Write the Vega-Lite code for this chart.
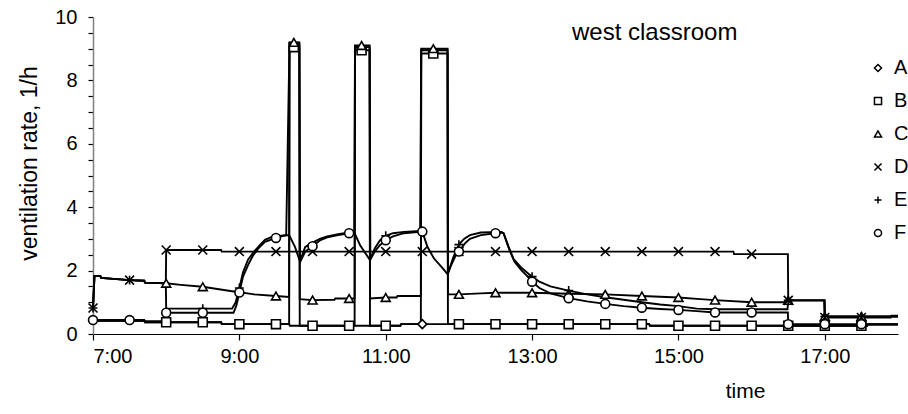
{
  "$schema": "https://vega.github.io/schema/vega-lite/v6.json",
  "autosize": "none",
  "width": 805,
  "height": 317,
  "padding": {"left": 93, "top": 17, "right": 10, "bottom": 80},
  "background": "white",
  "config": {
    "view": {"stroke": null},
    "font": "Liberation Sans",
    "axis": {"labelFont": "Liberation Sans", "titleFont": "Liberation Sans", "labelColor": "black", "titleColor": "black", "titleFontWeight": "normal", "tickColor": "black", "grid": false}
  },
  "title": {"text": "west classroom", "anchor": "start", "frame": "group", "dx": 479, "dy": 38, "fontSize": 24, "fontWeight": "normal", "font": "Liberation Sans", "color": "black", "offset": 0},
  "datasets": {
    "lines": [
      {"series":"A","time":7.0,"rate":0.42},{"series":"A","time":7.7,"rate":0.42},{"series":"A","time":7.71,"rate":0.37},{"series":"A","time":8.75,"rate":0.37},{"series":"A","time":8.76,"rate":0.31},{"series":"A","time":9.68,"rate":0.31},{"series":"A","time":9.69,"rate":0.26},{"series":"A","time":11.2,"rate":0.26},{"series":"A","time":11.21,"rate":0.31},{"series":"A","time":14.6,"rate":0.31},{"series":"A","time":14.61,"rate":0.26},{"series":"A","time":17.58,"rate":0.26},{"series":"A","time":17.59,"rate":0.3},{"series":"A","time":18.0,"rate":0.3},

      {"series":"B","time":7.0,"rate":0.42},{"series":"B","time":7.7,"rate":0.42},{"series":"B","time":7.71,"rate":0.37},{"series":"B","time":8.75,"rate":0.37},{"series":"B","time":8.76,"rate":0.31},{"series":"B","time":9.68,"rate":0.31},{"series":"B","time":9.685,"rate":9.05},{"series":"B","time":9.82,"rate":9.05},{"series":"B","time":9.825,"rate":0.26},{"series":"B","time":10.575,"rate":0.26},{"series":"B","time":10.58,"rate":8.95},{"series":"B","time":10.78,"rate":8.95},{"series":"B","time":10.785,"rate":0.26},{"series":"B","time":11.2,"rate":0.26},{"series":"B","time":11.21,"rate":0.31},{"series":"B","time":11.48,"rate":0.31},{"series":"B","time":11.485,"rate":8.85},{"series":"B","time":11.845,"rate":8.85},{"series":"B","time":11.85,"rate":0.31},{"series":"B","time":14.6,"rate":0.31},{"series":"B","time":14.61,"rate":0.26},{"series":"B","time":17.58,"rate":0.26},{"series":"B","time":17.59,"rate":0.3},{"series":"B","time":18.0,"rate":0.3},

      {"series":"C","time":7.0,"rate":0.82},{"series":"C","time":7.02,"rate":1.83},{"series":"C","time":7.1,"rate":1.83},{"series":"C","time":7.11,"rate":1.77},{"series":"C","time":7.5,"rate":1.7},{"series":"C","time":7.7,"rate":1.68},{"series":"C","time":7.71,"rate":1.62},{"series":"C","time":8.0,"rate":1.6},{"series":"C","time":8.2,"rate":1.55},{"series":"C","time":8.5,"rate":1.49},{"series":"C","time":8.7,"rate":1.42},{"series":"C","time":8.9,"rate":1.35},{"series":"C","time":9.0,"rate":1.32},{"series":"C","time":9.2,"rate":1.25},{"series":"C","time":9.5,"rate":1.2},{"series":"C","time":9.68,"rate":1.17},{"series":"C","time":9.685,"rate":9.2},{"series":"C","time":9.82,"rate":9.2},{"series":"C","time":9.825,"rate":1.1},{"series":"C","time":10.0,"rate":1.07},{"series":"C","time":10.3,"rate":1.08},{"series":"C","time":10.31,"rate":1.12},{"series":"C","time":10.575,"rate":1.12},{"series":"C","time":10.58,"rate":9.1},{"series":"C","time":10.78,"rate":9.1},{"series":"C","time":10.785,"rate":1.12},{"series":"C","time":11.0,"rate":1.15},{"series":"C","time":11.15,"rate":1.15},{"series":"C","time":11.16,"rate":1.2},{"series":"C","time":11.48,"rate":1.2},{"series":"C","time":11.485,"rate":9.0},{"series":"C","time":11.845,"rate":9.0},{"series":"C","time":11.85,"rate":1.25},{"series":"C","time":12.0,"rate":1.25},{"series":"C","time":12.3,"rate":1.28},{"series":"C","time":12.5,"rate":1.3},{"series":"C","time":13.0,"rate":1.3},{"series":"C","time":13.5,"rate":1.27},{"series":"C","time":14.0,"rate":1.25},{"series":"C","time":14.5,"rate":1.2},{"series":"C","time":15.0,"rate":1.15},{"series":"C","time":15.3,"rate":1.1},{"series":"C","time":15.5,"rate":1.07},{"series":"C","time":16.0,"rate":1.0},{"series":"C","time":16.49,"rate":1.0},{"series":"C","time":16.5,"rate":1.06},{"series":"C","time":16.995,"rate":1.06},{"series":"C","time":17.0,"rate":0.55},{"series":"C","time":18.0,"rate":0.55},

      {"series":"D","time":7.0,"rate":0.82},{"series":"D","time":7.02,"rate":1.83},{"series":"D","time":7.1,"rate":1.83},{"series":"D","time":7.11,"rate":1.77},{"series":"D","time":7.5,"rate":1.7},{"series":"D","time":7.7,"rate":1.68},{"series":"D","time":7.71,"rate":1.62},{"series":"D","time":7.995,"rate":1.6},{"series":"D","time":8.0,"rate":2.65},{"series":"D","time":8.75,"rate":2.65},{"series":"D","time":8.76,"rate":2.6},{"series":"D","time":15.75,"rate":2.6},{"series":"D","time":15.76,"rate":2.52},{"series":"D","time":16.495,"rate":2.52},{"series":"D","time":16.5,"rate":1.06},{"series":"D","time":16.995,"rate":1.06},{"series":"D","time":17.0,"rate":0.52},{"series":"D","time":17.9,"rate":0.52},{"series":"D","time":17.91,"rate":0.58},{"series":"D","time":18.0,"rate":0.58},

      {"series":"E","time":7.0,"rate":0.82},{"series":"E","time":7.02,"rate":1.83},{"series":"E","time":7.1,"rate":1.83},{"series":"E","time":7.11,"rate":1.77},{"series":"E","time":7.5,"rate":1.7},{"series":"E","time":7.7,"rate":1.68},{"series":"E","time":7.71,"rate":1.62},{"series":"E","time":7.995,"rate":1.6},{"series":"E","time":8.0,"rate":0.8},{"series":"E","time":8.9,"rate":0.8},{"series":"E","time":8.95,"rate":1.0},{"series":"E","time":9.0,"rate":1.45},{"series":"E","time":9.05,"rate":1.95},{"series":"E","time":9.12,"rate":2.35},{"series":"E","time":9.2,"rate":2.6},{"series":"E","time":9.28,"rate":2.8},{"series":"E","time":9.35,"rate":2.97},{"series":"E","time":9.45,"rate":3.07},{"series":"E","time":9.64,"rate":3.12},{"series":"E","time":9.685,"rate":9.15},{"series":"E","time":9.82,"rate":9.15},{"series":"E","time":9.83,"rate":2.3},{"series":"E","time":9.9,"rate":2.75},{"series":"E","time":10.0,"rate":2.88},{"series":"E","time":10.1,"rate":3.0},{"series":"E","time":10.2,"rate":3.08},{"series":"E","time":10.35,"rate":3.15},{"series":"E","time":10.5,"rate":3.2},{"series":"E","time":10.57,"rate":3.22},{"series":"E","time":10.58,"rate":9.05},{"series":"E","time":10.78,"rate":9.05},{"series":"E","time":10.79,"rate":2.35},{"series":"E","time":10.85,"rate":2.7},{"series":"E","time":10.92,"rate":2.95},{"series":"E","time":11.0,"rate":3.1},{"series":"E","time":11.1,"rate":3.18},{"series":"E","time":11.25,"rate":3.22},{"series":"E","time":11.47,"rate":3.25},{"series":"E","time":11.485,"rate":8.95},{"series":"E","time":11.845,"rate":8.95},{"series":"E","time":11.85,"rate":1.9},{"series":"E","time":11.92,"rate":2.4},{"series":"E","time":12.0,"rate":2.82},{"series":"E","time":12.07,"rate":3.0},{"series":"E","time":12.15,"rate":3.12},{"series":"E","time":12.3,"rate":3.2},{"series":"E","time":12.58,"rate":3.22},{"series":"E","time":12.61,"rate":3.18},{"series":"E","time":12.68,"rate":2.75},{"series":"E","time":12.75,"rate":2.35},{"series":"E","time":12.85,"rate":2.1},{"series":"E","time":12.95,"rate":1.9},{"series":"E","time":13.0,"rate":1.81},{"series":"E","time":13.1,"rate":1.65},{"series":"E","time":13.25,"rate":1.5},{"series":"E","time":13.5,"rate":1.37},{"series":"E","time":13.75,"rate":1.25},{"series":"E","time":14.0,"rate":1.16},{"series":"E","time":14.25,"rate":1.08},{"series":"E","time":14.5,"rate":1.0},{"series":"E","time":14.75,"rate":0.93},{"series":"E","time":15.0,"rate":0.88},{"series":"E","time":15.25,"rate":0.8},{"series":"E","time":15.5,"rate":0.78},{"series":"E","time":16.49,"rate":0.78},{"series":"E","time":16.5,"rate":1.06},{"series":"E","time":16.995,"rate":1.06},{"series":"E","time":17.0,"rate":0.55},{"series":"E","time":18.0,"rate":0.55},

      {"series":"F","time":7.0,"rate":0.44},{"series":"F","time":7.7,"rate":0.44},{"series":"F","time":7.71,"rate":0.4},{"series":"F","time":7.995,"rate":0.4},{"series":"F","time":8.0,"rate":0.67},{"series":"F","time":8.92,"rate":0.67},{"series":"F","time":8.96,"rate":0.9},{"series":"F","time":9.0,"rate":1.31},{"series":"F","time":9.05,"rate":1.81},{"series":"F","time":9.12,"rate":2.18},{"series":"F","time":9.19,"rate":2.49},{"series":"F","time":9.26,"rate":2.7},{"series":"F","time":9.35,"rate":2.91},{"series":"F","time":9.5,"rate":3.03},{"series":"F","time":9.6,"rate":3.1},{"series":"F","time":9.68,"rate":3.12},{"series":"F","time":9.76,"rate":2.75},{"series":"F","time":9.83,"rate":2.27},{"series":"F","time":9.9,"rate":2.6},{"series":"F","time":10.0,"rate":2.77},{"series":"F","time":10.1,"rate":2.95},{"series":"F","time":10.2,"rate":3.05},{"series":"F","time":10.35,"rate":3.12},{"series":"F","time":10.5,"rate":3.18},{"series":"F","time":10.57,"rate":3.2},{"series":"F","time":10.65,"rate":2.8},{"series":"F","time":10.785,"rate":2.33},{"series":"F","time":10.85,"rate":2.6},{"series":"F","time":10.92,"rate":2.8},{"series":"F","time":11.0,"rate":2.96},{"series":"F","time":11.1,"rate":3.08},{"series":"F","time":11.25,"rate":3.18},{"series":"F","time":11.5,"rate":3.23},{"series":"F","time":11.57,"rate":2.75},{"series":"F","time":11.66,"rate":2.38},{"series":"F","time":11.78,"rate":2.07},{"series":"F","time":11.845,"rate":1.89},{"series":"F","time":11.9,"rate":2.2},{"series":"F","time":11.95,"rate":2.45},{"series":"F","time":12.0,"rate":2.6},{"series":"F","time":12.08,"rate":2.85},{"series":"F","time":12.15,"rate":3.0},{"series":"F","time":12.3,"rate":3.12},{"series":"F","time":12.5,"rate":3.18},{"series":"F","time":12.58,"rate":3.2},{"series":"F","time":12.61,"rate":3.18},{"series":"F","time":12.69,"rate":2.65},{"series":"F","time":12.76,"rate":2.28},{"series":"F","time":12.85,"rate":2.02},{"series":"F","time":12.94,"rate":1.81},{"series":"F","time":13.0,"rate":1.65},{"series":"F","time":13.1,"rate":1.45},{"series":"F","time":13.25,"rate":1.28},{"series":"F","time":13.5,"rate":1.13},{"series":"F","time":13.75,"rate":1.03},{"series":"F","time":14.0,"rate":0.95},{"series":"F","time":14.25,"rate":0.88},{"series":"F","time":14.5,"rate":0.83},{"series":"F","time":14.75,"rate":0.79},{"series":"F","time":15.0,"rate":0.76},{"series":"F","time":15.25,"rate":0.72},{"series":"F","time":15.5,"rate":0.68},{"series":"F","time":16.495,"rate":0.68},{"series":"F","time":16.5,"rate":0.31},{"series":"F","time":18.0,"rate":0.31}
    ],
    "markers": [
      {"series":"A","time":11.5,"rate":0.31},

      {"series":"B","time":8.0,"rate":0.37},{"series":"B","time":8.5,"rate":0.37},{"series":"B","time":9.0,"rate":0.31},{"series":"B","time":9.5,"rate":0.31},{"series":"B","time":9.745,"rate":9.05},{"series":"B","time":10.0,"rate":0.26},{"series":"B","time":10.5,"rate":0.26},{"series":"B","time":10.67,"rate":8.95},{"series":"B","time":11.0,"rate":0.26},{"series":"B","time":11.65,"rate":8.85},{"series":"B","time":12.0,"rate":0.31},{"series":"B","time":12.5,"rate":0.31},{"series":"B","time":13.0,"rate":0.31},{"series":"B","time":13.5,"rate":0.31},{"series":"B","time":14.0,"rate":0.31},{"series":"B","time":14.5,"rate":0.31},{"series":"B","time":15.0,"rate":0.26},{"series":"B","time":15.5,"rate":0.26},{"series":"B","time":16.0,"rate":0.26},{"series":"B","time":16.5,"rate":0.26},{"series":"B","time":17.0,"rate":0.26},{"series":"B","time":17.5,"rate":0.26},

      {"series":"C","time":8.0,"rate":1.6},{"series":"C","time":8.5,"rate":1.49},{"series":"C","time":9.5,"rate":1.2},{"series":"C","time":9.745,"rate":9.2},{"series":"C","time":10.0,"rate":1.07},{"series":"C","time":10.5,"rate":1.12},{"series":"C","time":10.67,"rate":9.1},{"series":"C","time":11.0,"rate":1.15},{"series":"C","time":11.65,"rate":9.0},{"series":"C","time":12.0,"rate":1.25},{"series":"C","time":12.5,"rate":1.3},{"series":"C","time":13.0,"rate":1.3},{"series":"C","time":13.5,"rate":1.27},{"series":"C","time":14.0,"rate":1.25},{"series":"C","time":14.5,"rate":1.2},{"series":"C","time":15.0,"rate":1.15},{"series":"C","time":15.5,"rate":1.07},{"series":"C","time":16.0,"rate":1.0},{"series":"C","time":16.5,"rate":1.06},{"series":"C","time":17.0,"rate":0.55},{"series":"C","time":17.5,"rate":0.55},

      {"series":"D","time":7.0,"rate":0.82},{"series":"D","time":7.5,"rate":1.7},{"series":"D","time":8.0,"rate":2.65},{"series":"D","time":8.5,"rate":2.65},{"series":"D","time":9.0,"rate":2.6},{"series":"D","time":9.5,"rate":2.6},{"series":"D","time":10.0,"rate":2.6},{"series":"D","time":10.5,"rate":2.6},{"series":"D","time":11.0,"rate":2.6},{"series":"D","time":11.5,"rate":2.6},{"series":"D","time":12.0,"rate":2.6},{"series":"D","time":12.5,"rate":2.6},{"series":"D","time":13.0,"rate":2.6},{"series":"D","time":13.5,"rate":2.6},{"series":"D","time":14.0,"rate":2.6},{"series":"D","time":14.5,"rate":2.6},{"series":"D","time":15.0,"rate":2.6},{"series":"D","time":15.5,"rate":2.6},{"series":"D","time":16.0,"rate":2.52},{"series":"D","time":16.5,"rate":1.06},{"series":"D","time":17.0,"rate":0.52},{"series":"D","time":17.5,"rate":0.52},

      {"series":"E","time":7.0,"rate":0.82},{"series":"E","time":7.5,"rate":1.7},{"series":"E","time":8.5,"rate":0.8},{"series":"E","time":9.0,"rate":1.45},{"series":"E","time":11.0,"rate":3.1},{"series":"E","time":12.0,"rate":2.82},{"series":"E","time":13.0,"rate":1.81},{"series":"E","time":13.5,"rate":1.37},{"series":"E","time":16.5,"rate":1.06},{"series":"E","time":17.0,"rate":0.55},{"series":"E","time":17.5,"rate":0.55},

      {"series":"F","time":7.0,"rate":0.44},{"series":"F","time":7.5,"rate":0.44},{"series":"F","time":8.0,"rate":0.67},{"series":"F","time":8.5,"rate":0.67},{"series":"F","time":9.0,"rate":1.31},{"series":"F","time":9.5,"rate":3.03},{"series":"F","time":10.0,"rate":2.77},{"series":"F","time":10.5,"rate":3.18},{"series":"F","time":11.0,"rate":2.96},{"series":"F","time":11.5,"rate":3.23},{"series":"F","time":12.0,"rate":2.6},{"series":"F","time":12.5,"rate":3.18},{"series":"F","time":13.0,"rate":1.65},{"series":"F","time":13.5,"rate":1.13},{"series":"F","time":14.0,"rate":0.95},{"series":"F","time":14.5,"rate":0.83},{"series":"F","time":15.0,"rate":0.76},{"series":"F","time":15.5,"rate":0.68},{"series":"F","time":16.0,"rate":0.68},{"series":"F","time":16.5,"rate":0.31},{"series":"F","time":17.0,"rate":0.31},{"series":"F","time":17.5,"rate":0.31}
    ]
  },
  "encoding": {
    "x": {"field": "time", "type": "quantitative",
      "scale": {"domain": [7, 18], "nice": false, "zero": false},
      "axis": {"values": [7, 9, 11, 13, 15, 17], "labelExpr": "floor(datum.value) + ':00'", "labelFontSize": 20, "labelPadding": 6, "tickSize": 6, "domainColor": "black", "domainWidth": 1.2, "tickWidth": 1.2,
        "title": "time", "titleFontSize": 21, "titleX": 652, "titleY": 46, "titleAnchor": null}},
    "y": {"field": "rate", "type": "quantitative",
      "scale": {"domain": [0, 10], "nice": false},
      "axis": {"values": [0,0.5,1,1.5,2,2.5,3,3.5,4,4.5,5,5.5,6,6.5,7,7.5,8,8.5,9,9.5,10], "labelExpr": "datum.value % 2 == 0 ? format(datum.value, 'd') : ''", "labelFontSize": 20, "labelPadding": 11, "tickSize": 5, "domainColor": "#808080", "domainWidth": 1.5, "tickWidth": 1.2,
        "title": "ventilation rate, 1/h", "titleFontSize": 23, "titleAngle": 270, "titleX": -64, "titleY": 146, "titleAlign": "center", "titleBaseline": "middle"}}
  },
  "layer": [
    {"data": {"name": "lines"},
     "mark": {"type": "line", "color": "black", "strokeWidth": 1.9, "interpolate": "linear"},
     "encoding": {"detail": {"field": "series"}}},
    {"data": {"name": "markers"},
     "mark": {"type": "point", "filled": false, "fill": "white", "fillOpacity": 1, "stroke": "black", "strokeWidth": 1.6, "size": 80, "opacity": 1},
     "encoding": {"shape": {"field": "series", "type": "nominal",
        "scale": {"domain": ["A","B","C","D","E","F"], "range": ["diamond","square","triangle-up","M-1,-1L1,1M-1,1L1,-1","M-1,0L1,0M0,-1L0,1","circle"]},
        "legend": {"title": null, "orient": "none", "legendX": 775, "legendY": 41, "labelFontSize": 20, "labelFont": "Liberation Sans", "labelColor": "black", "symbolSize": 50, "rowPadding": 13, "labelOffset": 6,
          "encode": {"symbols": {"update": {"stroke": {"value": "black"}, "strokeWidth": {"value": 1.8}, "fill": {"value": "white"}, "fillOpacity": {"value": 1}, "strokeOpacity": {"value": 1}, "opacity": {"value": 1}, "size": {"value": 50}}}}}}}}
  ]
}
